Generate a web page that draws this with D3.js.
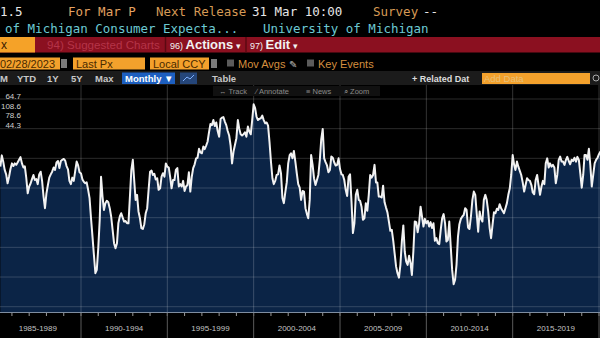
<!DOCTYPE html>
<html>
<head>
<meta charset="utf-8">
<script src="https://cdn.jsdelivr.net/npm/d3@7"></script>
<style>
  html, body { margin: 0; padding: 0; background: #000; }
  svg { display: block; }
</style>
</head>
<body>
<div id="chart"></div>
<script>
// ---- DATA (monthly, University of Michigan Consumer Expectations index) ----
const seriesStart = [1985, 4]; // May 1985 (year, zero-based month)
const expectations = [
  87.2, 91.0, 88.9, 86.1, 84.6, 81.6, 83.8, 86.4, 88.3, 87.4,
  88.3, 87.8, 88.6, 89.5, 90.4, 88.3, 86.9, 87.3, 83.3, 78.2,
  80.5, 81.6, 83.0, 84.4, 82.7, 83.0, 81.3, 84.6, 85.5, 82.4,
  77.1, 73.2, 78.2, 81.0, 83.5, 84.6, 85.5, 86.9, 86.1, 88.6,
  89.1, 86.7, 89.1, 89.5, 89.8, 89.2, 87.4, 86.3, 82.4, 81.3,
  83.5, 82.4, 85.8, 88.9, 87.6, 85.3, 84.9, 82.9, 82.1, 81.6,
  81.9, 79.4, 76.6, 69.8, 63.6, 57.5, 51.3, 52.4, 59.7, 69.3,
  83.8, 77.1, 72.6, 74.9, 75.7, 75.2, 73.2, 70.4, 65.9, 61.4,
  59.7, 61.4, 68.1, 70.4, 71.5, 70.0, 68.7, 68.9, 68.1, 68.1,
  77.1, 86.1, 89.5, 82.2, 76.0, 77.7, 72.1, 69.8, 66.5, 66.2,
  67.8, 71.5, 73.2, 79.4, 85.5, 85.9, 84.4, 84.8, 82.9, 83.3,
  79.4, 79.9, 83.8, 85.0, 83.8, 88.3, 87.2, 86.9, 83.8, 79.9,
  82.7, 82.7, 86.1, 86.7, 80.5, 81.3, 80.5, 82.4, 79.0, 80.5,
  81.0, 85.3, 78.8, 83.8, 86.7, 88.0, 90.0, 90.2, 93.2, 92.0,
  91.7, 94.0, 93.1, 94.3, 95.6, 98.8, 101.6, 101.2, 102.9, 100.9,
  102.1, 99.2, 97.3, 103.3, 103.7, 103.9, 102.4, 101.2, 99.2, 97.7,
  94.3, 88.3, 92.3, 94.5, 96.8, 102.9, 100.1, 98.1, 97.7, 98.1,
  98.8, 97.3, 100.7, 99.0, 98.1, 102.9, 108.2, 106.9, 104.1, 102.9,
  103.3, 103.5, 104.4, 102.9, 101.8, 102.1, 101.0, 95.6, 88.9, 83.3,
  81.3, 82.4, 84.4, 84.6, 87.6, 85.0, 76.6, 74.9, 78.6, 81.9,
  88.3, 91.1, 91.7, 90.0, 92.5, 88.9, 85.0, 81.3, 80.1, 76.0,
  79.0, 78.8, 73.2, 71.2, 69.8, 76.0, 91.1, 87.8, 83.3, 81.0,
  82.7, 84.4, 89.5, 96.5, 99.9, 90.0, 88.7, 87.6, 85.3, 86.1,
  90.6, 90.2, 88.6, 87.6, 87.8, 90.0, 86.4, 84.6, 84.4, 82.7,
  79.4, 77.3, 83.8, 84.6, 75.4, 64.8, 68.1, 77.7, 79.4, 76.0,
  75.7, 73.7, 69.3, 69.8, 74.9, 72.3, 77.7, 84.4, 83.5, 84.4,
  87.8, 81.9, 81.9, 77.1, 77.1, 76.8, 80.8, 75.2, 73.4, 71.8,
  68.7, 65.6, 65.9, 62.2, 58.0, 53.5, 51.3, 49.8, 54.1, 62.0,
  67.4, 58.6, 55.2, 54.1, 57.2, 54.7, 50.7, 58.6, 68.7, 68.5,
  65.1, 68.1, 73.7, 70.4, 67.0, 69.6, 68.1, 68.9, 67.0, 68.5,
  66.5, 68.1, 62.2, 63.1, 61.4, 61.1, 65.9, 69.8, 71.2, 68.1,
  62.0, 62.5, 68.7, 60.3, 52.4, 47.6, 49.1, 54.1, 63.6, 67.8,
  69.6, 70.4, 70.9, 73.2, 72.6, 66.7, 66.2, 70.4, 76.0, 78.8,
  77.7, 71.5, 65.3, 72.1, 69.6, 68.7, 76.0, 77.7, 76.0, 72.1,
  66.5, 63.1, 67.6, 71.8, 71.5, 73.0, 72.6, 74.5, 73.2, 72.3,
  71.5, 73.2, 74.9, 77.7, 79.9, 84.4, 91.1, 87.8, 86.1, 88.9,
  87.2, 85.8, 84.4, 81.9, 78.8, 81.0, 83.3, 82.7, 82.4, 81.0,
  78.5, 77.9, 82.7, 84.4, 81.0, 77.7, 80.5, 82.4, 81.3, 88.3,
  90.0, 86.9, 88.3, 87.2, 87.8, 86.9, 81.6, 84.4, 89.5, 90.6,
  88.9, 88.9, 87.8, 89.5, 90.5, 89.1, 88.0, 89.5, 89.1, 90.2,
  88.9, 90.5, 89.5, 85.0, 80.1, 84.4, 91.1, 91.1, 89.5, 93.2,
  87.8, 80.5, 84.4, 88.3, 89.5, 90.2, 91.4, 92.3
];
const periodLabels = ["1985-1989", "1990-1994", "1995-1999", "2000-2004", "2005-2009", "2010-2014", "2015-2019"];
const periodStarts = [1985, 1990, 1995, 2000, 2005, 2010, 2015, 2020];
const gridValues = [40, 50, 60, 70, 80, 90, 100, 110];
const legendValues = ["64.7", "108.6", "78.6", "44.3"];

const data = expectations.map((v, i) => ({ date: new Date(seriesStart[0], seriesStart[1] + i, 1), value: v }));

// ---- LAYOUT ----
const W = 600, H = 338;
const plotTop = 85, plotBottom = 312;
const svg = d3.select("#chart").append("svg").attr("width", W).attr("height", H);
svg.append("rect").attr("width", W).attr("height", H).attr("fill", "#000");

const x = d3.scaleTime().domain([new Date(1990, 0, 1), new Date(2020, 0, 1)]).range([81, 599]);
const y = d3.scaleLinear().domain([40, 110]).range([306.7, 99]);

const mono = "'DejaVu Sans Mono', monospace";
const sans = "'Liberation Sans', Arial, sans-serif";

// ---- HEADER ROW 1 ----
const r1 = svg.append("g").attr("font-family", mono).attr("font-size", 12.5);
[["1.5", 0, "#e6e6e6"], ["For Mar P", 68, "#e3a262"], ["Next Release", 156, "#d69a55"],
 ["31 Mar 10:00", 252, "#e6e6e6"], ["Survey", 373, "#d69a55"], ["--", 423, "#e6e6e6"]]
  .forEach(([t, px, c]) => r1.append("text").attr("x", px).attr("y", 16).attr("fill", c).text(t));

// ---- HEADER ROW 2 ----
const r2 = svg.append("g").attr("font-family", mono).attr("font-size", 12.5).attr("fill", "#6cc9d3");
r2.append("text").attr("x", 5).attr("y", 33).text("of Michigan Consumer Expecta...");
r2.append("text").attr("x", 263).attr("y", 33).text("University of Michigan");

// ---- ROW 3 (red bar) ----
svg.append("rect").attr("x", 0).attr("y", 37).attr("width", W).attr("height", 15.5).attr("fill", "#8b1020");
svg.append("rect").attr("x", 0).attr("y", 37).attr("width", 35).attr("height", 15.5).attr("fill", "#f5a228");
svg.append("text").attr("x", 1).attr("y", 49).attr("font-family", sans).attr("font-size", 12).attr("fill", "#3a2000").text("x");
svg.append("text").attr("x", 47).attr("y", 49).attr("font-family", sans).attr("font-size", 11.6).attr("fill", "#b53448").text("94) Suggested Charts");
[165.5, 246].forEach(px => svg.append("line").attr("x1", px).attr("x2", px).attr("y1", 37).attr("y2", 52.5).attr("stroke", "#5c0912").attr("stroke-width", 1.5));
const act = svg.append("text").attr("x", 170).attr("y", 49).attr("font-family", sans).attr("fill", "#f2f2f2");
act.append("tspan").attr("font-size", 9).text("96) ");
act.append("tspan").attr("font-size", 13).attr("font-weight", "bold").text("Actions");
act.append("tspan").attr("font-size", 9).text(" \u25BE");
const ed = svg.append("text").attr("x", 250).attr("y", 49).attr("font-family", sans).attr("fill", "#f2f2f2");
ed.append("tspan").attr("font-size", 9).text("97) ");
ed.append("tspan").attr("font-size", 13).attr("font-weight", "bold").text("Edit");
ed.append("tspan").attr("font-size", 9).text(" \u25BE");

// ---- ROW 4 ----
const box = (x0, w, label) => {
  svg.append("rect").attr("x", x0).attr("y", 57.5).attr("width", w).attr("height", 12).attr("fill", "#f3a12c");
  svg.append("text").attr("x", Math.max(x0 + 3, 0)).attr("y", 67.5).attr("font-family", sans).attr("font-size", 11).attr("fill", "#4a2a00").text(label);
};
box(-3, 63, "02/28/2023");
box(73, 72, "Last Px");
box(150, 59, "Local CCY");
[61, 211].forEach(px => svg.append("rect").attr("x", px).attr("y", 59).attr("width", 6).attr("height", 9).attr("fill", "#7a7a7a"));
[227, 307].forEach(px => svg.append("rect").attr("x", px).attr("y", 59.5).attr("width", 7).attr("height", 7).attr("fill", "#5b5b5b"));
svg.append("text").attr("x", 238).attr("y", 67.5).attr("font-family", sans).attr("font-size", 11).attr("fill", "#d48f3f").text("Mov Avgs");
svg.append("text").attr("x", 289).attr("y", 67.5).attr("font-family", sans).attr("font-size", 10).attr("fill", "#bbbbbb").text("\u270E");
svg.append("text").attr("x", 318).attr("y", 67.5).attr("font-family", sans).attr("font-size", 11).attr("fill", "#d48f3f").text("Key Events");

// ---- ROW 5 (toolbar) ----
svg.append("rect").attr("x", 0).attr("y", 71).attr("width", W).attr("height", 14).attr("fill", "#1b1b1b");
const r5 = svg.append("g").attr("font-family", sans).attr("font-size", 9.5).attr("fill", "#c8c8c8").attr("font-weight", "bold");
[["M", 0], ["YTD", 17], ["1Y", 47], ["5Y", 71], ["Max", 95], ["Table", 212]]
  .forEach(([t, px]) => r5.append("text").attr("x", px).attr("y", 81.5).text(t));
svg.append("rect").attr("x", 122).attr("y", 72.5).attr("width", 53).attr("height", 11.5).attr("fill", "#1d5fc0");
svg.append("text").attr("x", 125).attr("y", 81.5).attr("font-family", sans).attr("font-size", 9.5).attr("font-weight", "bold").attr("fill", "#ffffff").text("Monthly \u25BC");
svg.append("rect").attr("x", 180).attr("y", 72.5).attr("width", 17).attr("height", 11.5).attr("fill", "#25467a");
svg.append("path").attr("d", "M183,81 L187,77 L190,79 L194,75").attr("fill", "none").attr("stroke", "#7fb0ff").attr("stroke-width", 1);
svg.append("text").attr("x", 412).attr("y", 81.5).attr("font-family", sans).attr("font-size", 9).attr("font-weight", "bold").attr("fill", "#dddddd").text("+ Related Dat");
svg.append("rect").attr("x", 482).attr("y", 73).attr("width", 108).attr("height", 11).attr("fill", "#f3a12c");
svg.append("text").attr("x", 484).attr("y", 81.5).attr("font-family", sans).attr("font-size", 9.5).attr("fill", "#e7c07a").text("Add Data");
svg.append("circle").attr("cx", 596).attr("cy", 78).attr("r", 3).attr("fill", "none").attr("stroke", "#aaa");

// ---- PLOT ----
svg.append("defs").append("clipPath").attr("id", "plotclip")
  .append("rect").attr("x", 0).attr("y", plotTop).attr("width", W).attr("height", plotBottom - plotTop);

const plot = svg.append("g").attr("clip-path", "url(#plotclip)");

const area = d3.area().x(d => x(d.date)).y0(plotBottom).y1(d => y(d.value));
plot.append("path").datum(data).attr("d", area).attr("fill", "#0b2446");

// gridlines
plot.selectAll(".hg").data(gridValues).join("line")
  .attr("x1", 0).attr("x2", W).attr("y1", d => y(d)).attr("y2", d => y(d))
  .attr("stroke", "rgba(255,255,255,0.17)").attr("stroke-width", 1);
plot.selectAll(".vg").data(periodStarts.slice(1)).join("line")
  .attr("x1", d => x(new Date(d, 0, 1))).attr("x2", d => x(new Date(d, 0, 1)))
  .attr("y1", plotTop).attr("y2", plotBottom)
  .attr("stroke", "rgba(255,255,255,0.2)").attr("stroke-width", 1);

const line = d3.line().x(d => x(d.date)).y(d => y(d.value));
plot.append("path").datum(data).attr("d", line).attr("fill", "none")
  .attr("stroke", "#f2f2f2").attr("stroke-width", 2).attr("stroke-linejoin", "round");

// chart tool strip
svg.append("rect").attr("x", 213).attr("y", 86).attr("width", 167).attr("height", 10).attr("fill", "#111111");
const ts = svg.append("g").attr("font-family", sans).attr("font-size", 7.5).attr("fill", "#8a8a8a");
[["\u2194 Track", 219], ["\u2215 Annotate", 256], ["\u2261 News", 306], ["\u2315 Zoom", 344]]
  .forEach(([t, px]) => ts.append("text").attr("x", px).attr("y", 94).text(t));

// legend values
svg.append("g").attr("font-family", sans).attr("font-size", 8).attr("fill", "#d0d0d0").attr("text-anchor", "end")
  .selectAll("text").data(legendValues).join("text")
  .attr("x", 21).attr("y", (d, i) => 99 + i * 9.5).text(d => d);

// ---- X AXIS ----
svg.append("line").attr("x1", 0).attr("x2", W).attr("y1", plotBottom + 0.5).attr("y2", plotBottom + 0.5)
  .attr("stroke", "#7f8da0").attr("stroke-width", 1.2);
const years = d3.range(1985, 2021).map(yr => new Date(yr, 0, 1));
svg.selectAll(".mt").data(years).join("line")
  .attr("x1", d => x(d)).attr("x2", d => x(d)).attr("y1", plotBottom + 1).attr("y2", plotBottom + 4)
  .attr("stroke", "#9a9a9a").attr("stroke-width", 1);
svg.selectAll(".sep").data(periodStarts.slice(1)).join("line")
  .attr("x1", d => x(new Date(d, 0, 1))).attr("x2", d => x(new Date(d, 0, 1)))
  .attr("y1", plotBottom + 1).attr("y2", H)
  .attr("stroke", "#5a5a5a").attr("stroke-width", 1);
svg.selectAll(".pl").data(periodLabels).join("text")
  .attr("x", (d, i) => (x(new Date(periodStarts[i], 0, 1)) + x(new Date(periodStarts[i + 1], 0, 1))) / 2)
  .attr("y", 331).attr("text-anchor", "middle")
  .attr("font-family", sans).attr("font-size", 8).attr("fill", "#c4c4c4")
  .text(d => d);
</script>
</body>
</html>
